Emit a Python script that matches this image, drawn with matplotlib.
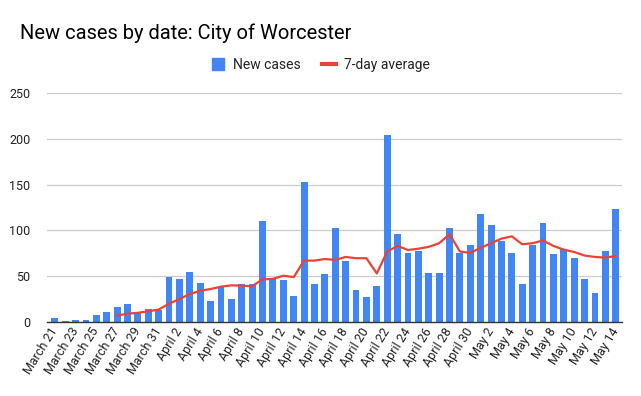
import numpy as np
import pandas as pd
import matplotlib
matplotlib.use("Agg")
import matplotlib.pyplot as plt
from matplotlib.lines import Line2D

plt.rcParams['font.family'] = ['Roboto', 'DejaVu Sans']

# daily counts, March 21 .. May 14
dates = pd.date_range("2020-03-21", "2020-05-14", freq="D")
date_labels = [d.strftime("%B ") + str(d.day) for d in dates]

new_cases = [4, 1, 2, 2, 8, 11, 16, 20, 11, 14, 13, 49, 47, 55, 43, 23, 38, 25,
             41, 41, 110, 47, 46, 28, 153, 41, 52, 103, 67, 35, 27, 39, 204, 96,
             75, 78, 53, 54, 103, 75, 84, 118, 106, 88, 75, 41, 84, 108, 74, 80,
             70, 47, 32, 78, 123]

# 7-day average starts on March 27
avg_start = 6
avg_7day = [7, 9, 10, 11.6, 13.5, 20, 25, 30.5, 34, 36, 38.5, 40, 39.6, 39,
            46.5, 47, 50.5, 49, 67, 67, 68.7, 67.8, 71, 69.6, 69.6, 53, 77, 83,
            78.6, 80, 82, 86, 95.7, 77, 75.4, 81, 86, 91, 93.5, 84.8, 86, 89,
            83, 79, 76.4, 72.5, 71, 70.3, 72]

blue = '#4285F4'
red = '#EA4335'

fig = plt.figure(figsize=(6.41, 3.96), dpi=100)
ax = fig.add_axes([0.0733, 0.187, 0.897, 0.578])

x = np.arange(len(new_cases))
ax.bar(x, new_cases, width=0.66, color=blue, zorder=2)
ax.plot(x[avg_start:avg_start + len(avg_7day)], avg_7day, color=red, lw=1.6, zorder=3)

ax.set_ylim(0, 250)
ax.set_yticks([0, 50, 100, 150, 200, 250])
ax.set_xlim(-0.75, len(new_cases) - 0.4)
ax.set_xticks(x[::2])
ax.set_xticklabels(date_labels[::2], rotation=58, ha='right', va='center',
                   rotation_mode='anchor', fontsize=9, color='#222222')
ax.tick_params(axis='x', length=0, pad=5)
ax.tick_params(axis='y', length=0, pad=12, labelsize=9, labelcolor='#222222')

ax.grid(axis='y', color='#cccccc', lw=0.9, zorder=0)
for s in ['top', 'right', 'left']:
    ax.spines[s].set_visible(False)
ax.spines['bottom'].set_color('#333333')
ax.spines['bottom'].set_linewidth(1.0)
ax.spines['bottom'].set_zorder(4)

fig.text(0.031, 0.915, "New cases by date: City of Worcester", fontsize=14.5,
         ha='left', va='center', color='#000000')

handles = [Line2D([], [], marker='s', color=blue, ls='none', markersize=9),
           Line2D([], [], color=red, lw=3)]
fig.legend(handles, ['New cases', '7-day average'], loc='center',
           bbox_to_anchor=(0.5, 0.836), ncol=2, frameon=False, fontsize=10,
           handlelength=1.0, handletextpad=0.6, columnspacing=1.5,
           labelcolor='#222222')

fig.savefig("out.png", dpi=100)
